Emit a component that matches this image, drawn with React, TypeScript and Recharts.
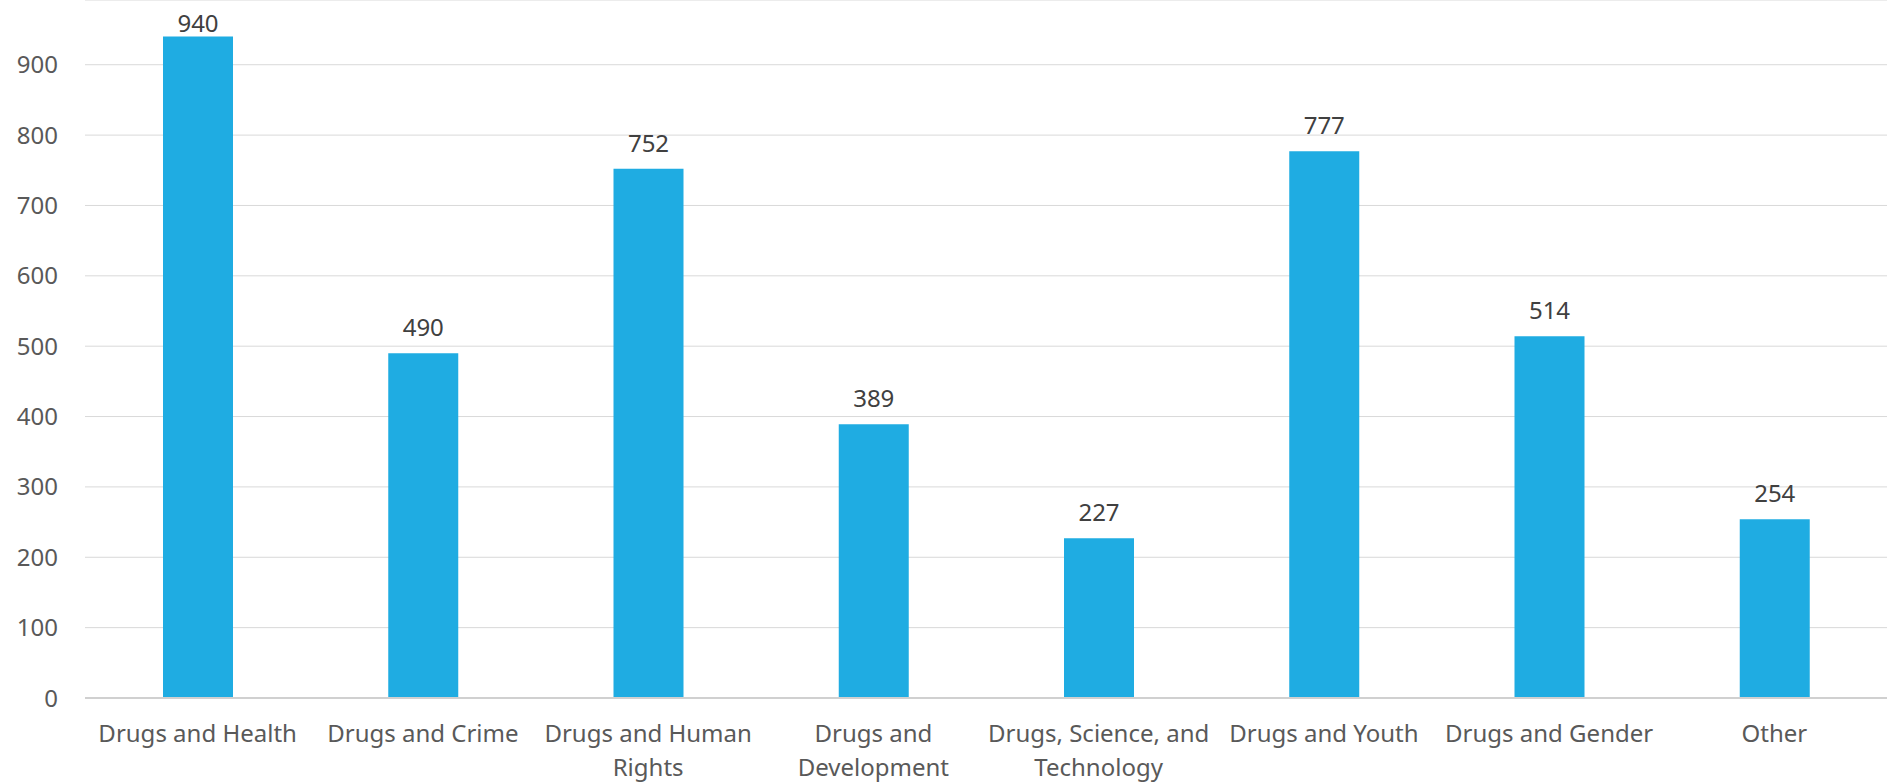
import React from "react";
import {
  BarChart,
  Bar,
  XAxis,
  YAxis,
  CartesianGrid,
  LabelList,
} from "recharts";

const CATEGORIES = [
  "Drugs and Health",
  "Drugs and Crime",
  "Drugs and Human Rights",
  "Drugs and Development",
  "Drugs, Science, and Technology",
  "Drugs and Youth",
  "Drugs and Gender",
  "Other",
];

// how the category names wrap under the axis
const CATEGORY_LINES = [
  ["Drugs and Health"],
  ["Drugs and Crime"],
  ["Drugs and Human", "Rights"],
  ["Drugs and", "Development"],
  ["Drugs, Science, and", "Technology"],
  ["Drugs and Youth"],
  ["Drugs and Gender"],
  ["Other"],
];

const VALUES = [940, 490, 752, 389, 227, 777, 514, 254];

const Y_TICKS = [0, 100, 200, 300, 400, 500, 600, 700, 800, 900];

const data = CATEGORIES.map((name, i) => ({ name, value: VALUES[i] }));

const FONT = "'Noto Sans', sans-serif";

const CategoryTick = ({ x, y, index }: any) => {
  const lines = CATEGORY_LINES[index] || [];
  return (
    <text
      x={x}
      y={y + 42}
      textAnchor="middle"
      fill="#595959"
      fontSize={24}
      fontFamily={FONT}
    >
      {lines.map((line: string, i: number) => (
        <tspan key={i} x={x} dy={i === 0 ? 0 : 34}>
          {line}
        </tspan>
      ))}
    </text>
  );
};

const renderValueLabel = ({ x, y, width, value }: any) => {
  // Excel pushes a label down when it would leave the plot area
  const ty = Math.max(y - 17, 32);
  return (
    <text
      x={x + width / 2}
      y={ty}
      textAnchor="middle"
      fill="#404040"
      fontSize={24}
      fontFamily={FONT}
    >
      {value}
    </text>
  );
};

export default function App() {
  return (
    <div style={{ position: "absolute", left: 0, top: 0, background: "#fff" }}>
      <BarChart
        width={1892}
        height={782}
        data={data}
        margin={{ top: 0, right: 5, bottom: 0, left: 0 }}
      >
        <CartesianGrid vertical={false} stroke="#d9d9d9" strokeWidth={1} />
        <XAxis
          dataKey="name"
          height={84}
          interval={0}
          tickLine={false}
          tickSize={0}
          axisLine={{ stroke: "#d0d0d0", strokeWidth: 2 }}
          tick={<CategoryTick />}
        />
        <YAxis
          width={85}
          domain={[0, 992]}
          ticks={Y_TICKS}
          axisLine={false}
          tickLine={false}
          tickSize={0}
          tickMargin={27}
          tick={{ fill: "#595959", fontSize: 24, fontFamily: FONT }}
        />
        <Bar dataKey="value" fill="#1FACE2" barSize={70} isAnimationActive={false}>
          <LabelList dataKey="value" content={renderValueLabel} />
        </Bar>
      </BarChart>
    </div>
  );
}
